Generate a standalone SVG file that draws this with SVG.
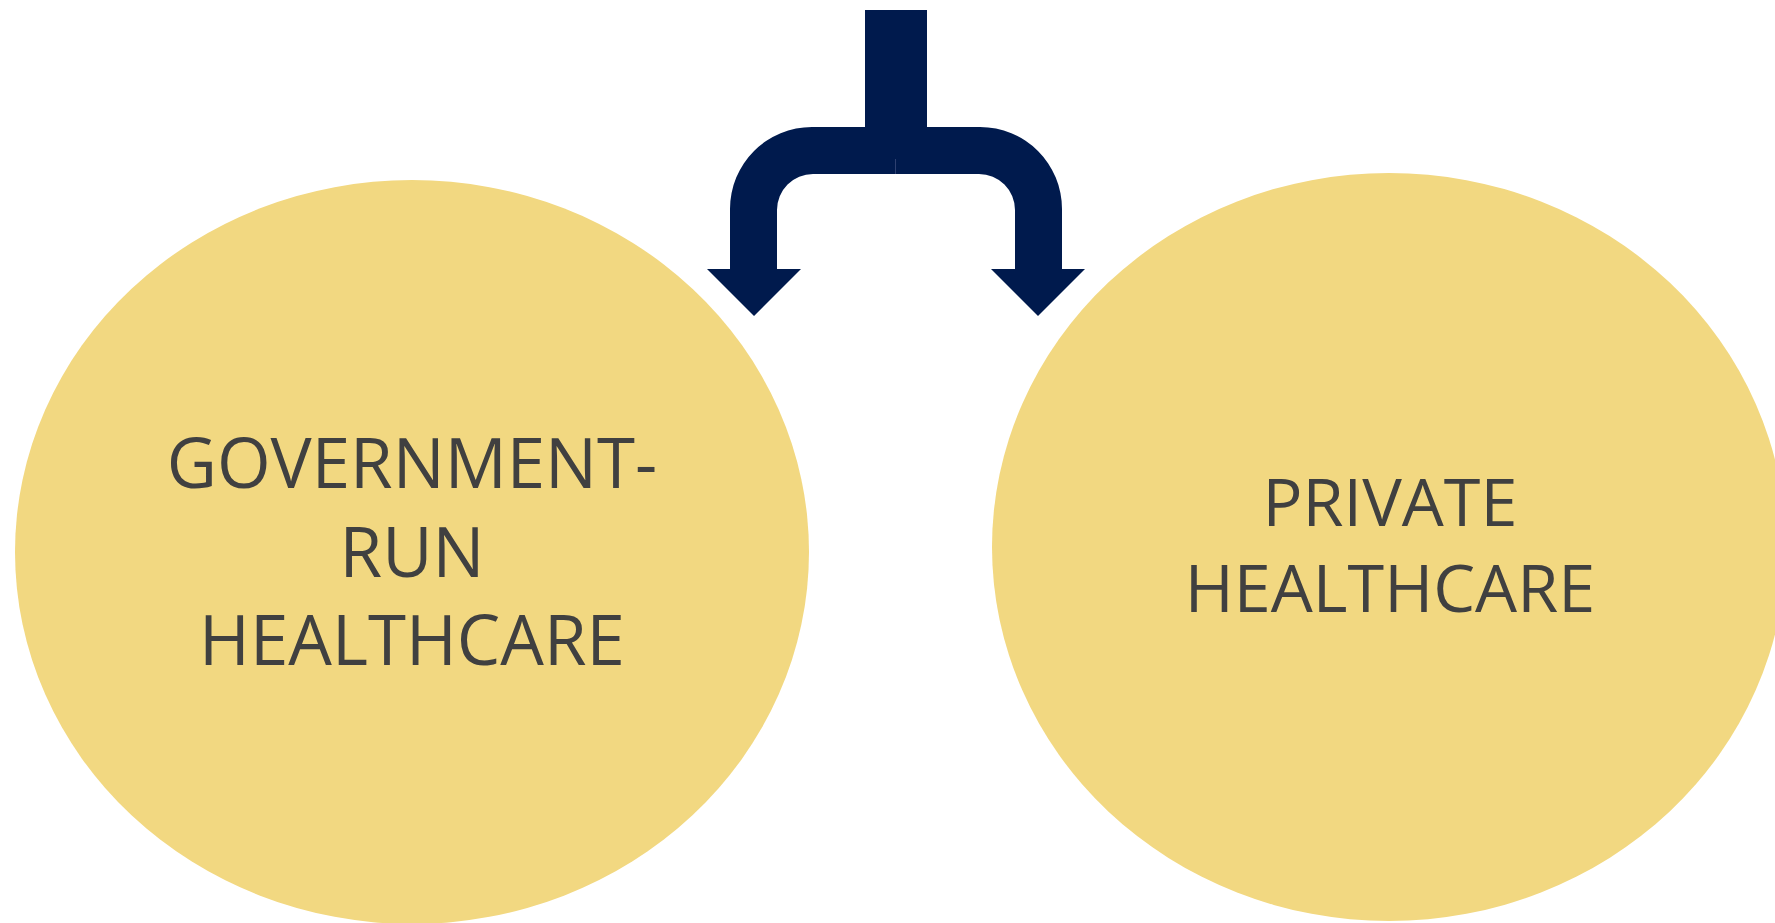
<svg xmlns="http://www.w3.org/2000/svg" width="1775" height="923" viewBox="0 0 1775 923">
<style>
.node{fill:#F2D881}
.lbl{font-family:"Open Sans","Liberation Sans",sans-serif;fill:#404040;text-anchor:middle}
.arr{fill:#001A4D}
</style>
<rect width="1775" height="923" fill="#FFFFFF"/>
<g id="node-government">
<ellipse class="node" cx="412" cy="552" rx="397" ry="372"/>
<text class="lbl" font-size="69"><tspan x="412" y="488">GOVERNMENT-</tspan><tspan x="412" y="577">RUN</tspan><tspan x="412" y="665">HEALTHCARE</tspan></text>
</g>
<g id="node-private">
<ellipse class="node" cx="1389" cy="547" rx="397" ry="374"/>
<text class="lbl" font-size="66.5"><tspan x="1390" y="526">PRIVATE</tspan><tspan x="1390" y="612">HEALTHCARE</tspan></text>
</g>
<g id="connectors">
<rect class="arr" x="865" y="10" width="62" height="130"/>
<path class="arr" d="M896,127 L812,127 A82,82 0 0 0 730,209 L730,269 L707,269 L754,316 L801,269 L777,269 L777,210 A36,36 0 0 1 813,174 L896,174 Z"/>
<path class="arr" d="M896,127 L980,127 A82,82 0 0 1 1062,209 L1062,269 L1085,269 L1038,316 L991,269 L1015,269 L1015,210 A36,36 0 0 0 979,174 L896,174 Z"/>
<line x1="895.5" y1="159" x2="895.5" y2="174" stroke="#3A4A7A" stroke-width="0.8"/>
</g>
</svg>
